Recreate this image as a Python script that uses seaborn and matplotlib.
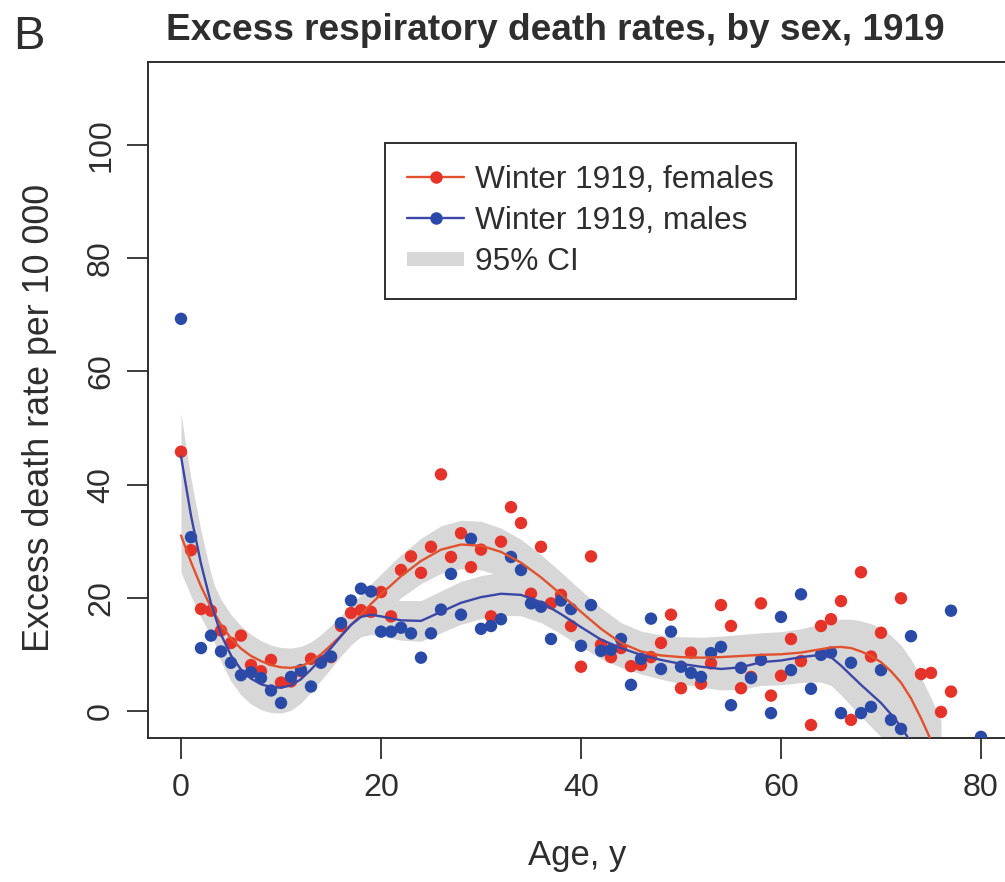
import numpy as np
import pandas as pd
import seaborn as sns
import matplotlib
matplotlib.use("Agg")
import matplotlib.pyplot as plt
from matplotlib.lines import Line2D
from matplotlib import font_manager

# ---- observed excess death rates (per 10 000) by single year of age ----
female_age = [0, 1, 2, 3, 4, 5, 6, 7, 8, 9, 10, 11, 12, 13, 14, 15, 16, 17, 18, 19,
              20, 21, 22, 23, 24, 25, 26, 27, 28, 29, 30, 31, 32, 33, 34, 35, 36, 37, 38, 39,
              40, 41, 42, 43, 44, 45, 46, 47, 48, 49, 50, 51, 52, 53, 54, 55, 56, 57, 58, 59,
              60, 61, 62, 63, 64, 65, 66, 67, 68, 69, 70, 72, 74, 75, 76, 77]
female_rate = [45.8, 28.4, 18.0, 17.7, 14.2, 12.0, 13.3, 8.1, 7.0, 9.0, 5.0, 5.2, 7.0, 9.2, 8.8, 9.5, 15.0, 17.3, 17.8, 17.5,
               21.0, 16.7, 24.9, 27.3, 24.4, 29.0, 41.8, 27.2, 31.4, 25.4, 28.5, 16.7, 29.9, 36.0, 33.2, 20.7, 29.0, 19.0, 20.5, 15.0,
               7.8, 27.3, 11.7, 9.5, 11.1, 7.9, 8.1, 9.5, 12.0, 17.0, 4.0, 10.3, 4.8, 8.4, 18.7, 15.0, 4.0, 6.0, 19.0, 2.7,
               6.2, 12.7, 8.8, -2.5, 15.0, 16.2, 19.4, -1.6, 24.5, 9.6, 13.8, 19.9, 6.5, 6.7, -0.2, 3.4]

male_age = [0, 1, 2, 3, 4, 5, 6, 7, 8, 9, 10, 11, 12, 13, 14, 15, 16, 17, 18, 19,
            20, 21, 22, 23, 24, 25, 26, 27, 28, 29, 30, 31, 32, 33, 34, 35, 36, 37, 38, 39,
            40, 41, 42, 43, 44, 45, 46, 47, 48, 49, 50, 51, 52, 53, 54, 55, 56, 57, 58, 59,
            60, 61, 62, 63, 64, 65, 66, 67, 68, 69, 70, 71, 72, 73, 77, 80]
male_rate = [69.3, 30.7, 11.1, 13.3, 10.5, 8.5, 6.3, 6.8, 5.8, 3.6, 1.4, 6.0, 7.2, 4.3, 8.5, 9.6, 15.5, 19.5, 21.6, 21.1,
             14.0, 14.0, 14.7, 13.7, 9.4, 13.7, 17.9, 24.2, 17.0, 30.4, 14.5, 15.0, 16.2, 27.2, 24.9, 19.0, 18.4, 12.7, 19.5, 18.0,
             11.5, 18.7, 10.6, 10.8, 12.7, 4.6, 9.2, 16.3, 7.4, 14.0, 7.8, 6.7, 6.0, 10.2, 11.3, 1.0, 7.6, 5.8, 9.0, -0.4,
             16.6, 7.2, 20.6, 3.9, 9.9, 10.3, -0.4, 8.5, -0.4, 0.7, 7.2, -1.6, -3.2, 13.2, 17.7, -4.6]

# ---- smoothed fits with 95% CI half-widths ----
female_fit_age = [0, 1, 2, 3, 4, 5, 6, 7, 8, 9, 10, 11, 12, 13, 14, 15, 16, 17, 18, 19, 20,
                  22, 24, 26, 28, 30, 32, 34, 36, 38, 40, 42, 44, 46, 48, 50, 52, 54, 56, 58, 60, 62, 64,
                  65, 66, 67, 68, 69, 70, 71, 72, 73, 74, 75, 76]
female_fit = [31.0, 26.3, 22.0, 18.3, 15.2, 12.8, 11.0, 9.7, 8.8, 8.1, 7.7, 7.6, 7.9, 8.7, 10.0, 11.6, 13.3, 15.2, 17.0, 18.9, 20.6,
              23.8, 26.5, 28.5, 29.4, 29.2, 28.1, 26.2, 23.6, 20.6, 17.5, 14.5, 12.0, 10.5, 9.8, 9.5, 9.4, 9.5, 9.7, 9.9, 10.0, 10.3, 10.9,
              11.2, 11.3, 11.1, 10.5, 9.7, 8.6, 7.0, 5.0, 2.2, -1.3, -5.2, -9.6]
female_ci = [6.5, 6.0, 5.5, 5.0, 4.5, 4.2, 4.0, 3.8, 3.6, 3.5, 3.5, 3.5, 3.5, 3.5, 3.5, 3.5, 3.5, 3.5, 3.5, 3.5, 3.6,
             3.8, 4.0, 4.2, 4.3, 4.3, 4.2, 4.1, 4.0, 3.9, 3.8, 3.7, 3.6, 3.6, 3.6, 3.6, 3.6, 3.7, 3.8, 3.9, 4.0, 4.2, 4.5,
             4.7, 4.9, 5.1, 5.4, 5.7, 6.0, 6.3, 6.6, 6.9, 7.2, 7.5, 7.8]

male_fit_age = [0, 1, 2, 3, 4, 5, 6, 7, 8, 9, 10, 11, 12, 13, 14, 15, 16, 17, 18, 19, 20,
                22, 24, 26, 28, 30, 32, 34, 36, 38, 40, 42, 44, 46, 48, 50, 52, 54, 56, 58, 60, 62, 64,
                65, 66, 67, 68, 69, 70, 71, 72, 73, 74]
male_fit = [45.0, 34.5, 26.0, 19.0, 13.5, 9.8, 7.3, 5.7, 4.7, 4.2, 4.1, 4.5, 5.6, 7.3, 9.2, 11.1, 13.2, 15.2, 16.6, 17.0, 16.7,
            16.0, 15.9, 17.5, 19.1, 20.1, 20.7, 20.5, 19.2, 17.1, 14.8, 12.6, 11.1, 9.9, 9.0, 8.3, 7.8, 7.4, 7.7, 8.6, 8.9, 9.5, 9.9,
            9.5, 8.0, 6.3, 4.6, 3.0, 1.4, -0.6, -2.8, -5.6, -8.6]
male_ci = [7.5, 6.5, 5.8, 5.2, 4.8, 4.6, 4.5, 4.5, 4.5, 4.5, 4.5, 4.4, 4.2, 4.0, 3.8, 3.6, 3.5, 3.5, 3.5, 3.5, 3.5,
           3.5, 3.6, 3.7, 3.8, 3.8, 3.8, 3.7, 3.6, 3.5, 3.4, 3.4, 3.4, 3.4, 3.4, 3.5, 3.6, 3.7, 3.9, 4.1, 4.3, 4.5, 4.8,
           5.0, 5.2, 5.4, 5.6, 5.8, 6.0, 6.2, 6.4, 6.6, 6.8]

x_ticks = [0, 20, 40, 60, 80]
y_ticks = [0, 20, 40, 60, 80, 100]
legend_labels = ["Winter 1919, females", "Winter 1919, males", "95% CI"]

# ---- styling ----
sns.set_theme(style="white")
available = {f.name for f in font_manager.fontManager.ttflist}
if "Liberation Sans Narrow" in available:
    family, k = "Liberation Sans Narrow", 1.0
else:
    family, k = "Liberation Sans", 0.86
plt.rcParams["font.family"] = [family, "DejaVu Sans"]

RED_PT, BLUE_PT = "#e5332a", "#2a4aa8"
RED_LN, BLUE_LN = "#e2512d", "#3b47a6"
BAND = "#d7d7d7"
INK = "#2e2e2e"

fig = plt.figure(figsize=(10.05, 8.82), dpi=100)
ax = fig.add_axes([148 / 1005, 144 / 882, 865 / 1005, 676 / 882])

# confidence bands
for fa, ff, fc in [(female_fit_age, female_fit, female_ci), (male_fit_age, male_fit, male_ci)]:
    fa, ff, fc = np.asarray(fa), np.asarray(ff), np.asarray(fc)
    ax.fill_between(fa, ff - fc, ff + fc, color=BAND, lw=0, zorder=1)

# observed points
points = pd.concat([
    pd.DataFrame({"age": female_age, "rate": female_rate, "sex": "female"}),
    pd.DataFrame({"age": male_age, "rate": male_rate, "sex": "male"}),
])
sns.scatterplot(data=points, x="age", y="rate", hue="sex",
                palette={"female": RED_PT, "male": BLUE_PT},
                s=80, edgecolor="none", legend=False, ax=ax, zorder=3)

# fitted curves
sns.lineplot(x=female_fit_age, y=female_fit, color=RED_LN, lw=1.7, ax=ax, zorder=4)
sns.lineplot(x=male_fit_age, y=male_fit, color=BLUE_LN, lw=1.7, ax=ax, zorder=4)

ax.set_xlim(-3.3, 83.2)
ax.set_ylim(-4.8, 114.7)
ax.set_xticks(x_ticks)
ax.set_yticks(y_ticks)
ax.set_xlabel("")
ax.set_ylabel("")

for sp in ax.spines.values():
    sp.set_visible(True)
    sp.set_color(INK)
    sp.set_linewidth(1.4)

ax.tick_params(axis="both", direction="out", length=15, width=1.3, color=INK,
               labelcolor=INK, labelsize=27 * k, bottom=True, left=True)
ax.tick_params(axis="x", pad=10)
ax.tick_params(axis="y", pad=8)
for lab in ax.get_yticklabels():
    lab.set_rotation(90)
    lab.set_va("center")
    lab.set_ha("right")

# legend
handles = [
    Line2D([], [], color=RED_LN, lw=1.7, marker="o", markersize=9,
           markerfacecolor=RED_PT, markeredgecolor="none"),
    Line2D([], [], color=BLUE_LN, lw=1.7, marker="o", markersize=9,
           markerfacecolor=BLUE_PT, markeredgecolor="none"),
    Line2D([], [], color=BAND, lw=10, solid_capstyle="butt"),
]
leg = ax.legend(handles, legend_labels, loc="upper left",
                bbox_to_anchor=((385 - 148) / 865, (738 - 143) / 676),
                frameon=True, fancybox=False, framealpha=1, edgecolor=INK,
                fontsize=26.5 * k, handlelength=1.8, handletextpad=0.35,
                borderpad=0.7, labelspacing=0.35, borderaxespad=0)
leg.get_frame().set_linewidth(1.4)
for t in leg.get_texts():
    t.set_color(INK)

# titles and axis labels
fig.text(555 / 1005, 1 - 31 / 882, "Excess respiratory death rates, by sex, 1919",
         ha="center", va="center", fontsize=31 * k, fontweight="bold", color=INK)
fig.text(29 / 1005, 1 - 37 / 882, "B", ha="center", va="center",
         fontsize=34, color=INK)
fig.text(577 / 1005, 1 - 855 / 882, "Age, y", ha="center", va="center",
         fontsize=29 * k, color=INK)
fig.text(40 / 1005, 1 - 418 / 882, "Excess death rate per 10 000", ha="center",
         va="center", rotation=90, fontsize=30 * k, color=INK)

fig.savefig("out.png", dpi=100)
